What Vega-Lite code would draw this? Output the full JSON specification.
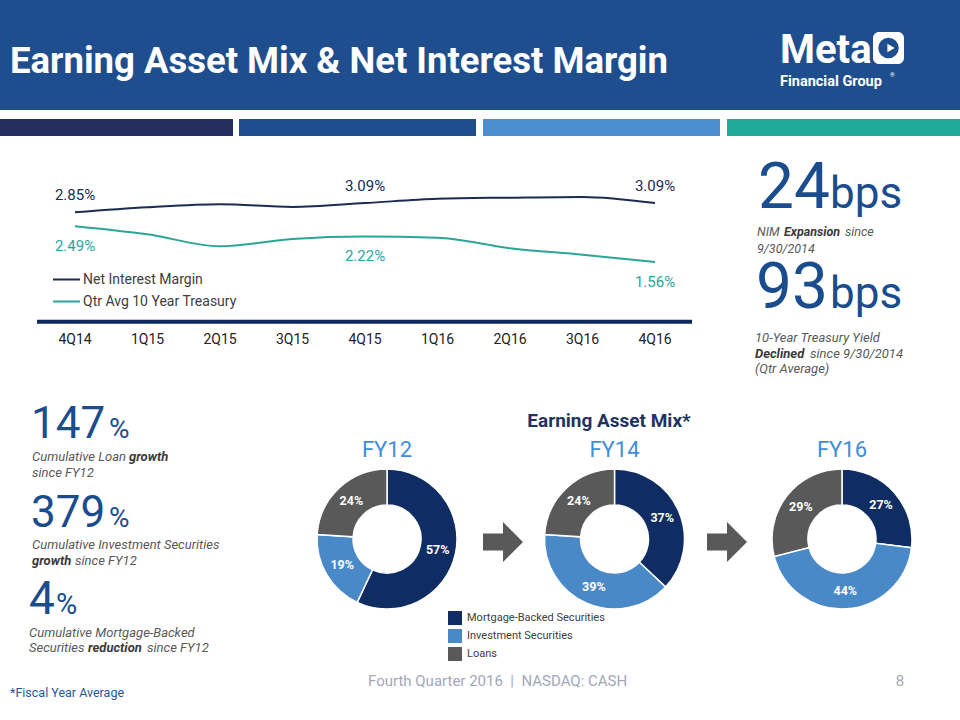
{
  "$schema": "https://vega.github.io/schema/vega-lite/v6.json",
  "width": 960,
  "height": 720,
  "padding": 0,
  "autosize": {"type": "none"},
  "background": "#ffffff",
  "config": {"view": {"stroke": null}, "axis": {"disable": true}, "font": "Roboto"},
  "data": {"values": [{}]},
  "resolve": {"scale": {"x": "independent", "y": "independent"}},
  "layer": [
    {
      "layer": [
        {"mark": {"type": "rect", "fill": "#1F4E8F"}, "encoding": {"x": {"datum": 0, "type": "quantitative", "scale": {"domain": [0, 960], "nice": false, "zero": false}, "axis": null}, "x2": {"datum": 960}, "y": {"datum": 0, "type": "quantitative", "scale": {"domain": [0, 720], "nice": false, "zero": false, "reverse": true}, "axis": null}, "y2": {"datum": 110}}},
        {"mark": {"type": "rect", "fill": "#252E5E"}, "encoding": {"x": {"datum": 0}, "x2": {"datum": 233}, "y": {"datum": 119}, "y2": {"datum": 136}}},
        {"mark": {"type": "rect", "fill": "#1F4E8F"}, "encoding": {"x": {"datum": 239}, "x2": {"datum": 476}, "y": {"datum": 119}, "y2": {"datum": 136}}},
        {"mark": {"type": "rect", "fill": "#4A8ED0"}, "encoding": {"x": {"datum": 483}, "x2": {"datum": 720}, "y": {"datum": 119}, "y2": {"datum": 136}}},
        {"mark": {"type": "rect", "fill": "#21A898"}, "encoding": {"x": {"datum": 727}, "x2": {"datum": 960}, "y": {"datum": 119}, "y2": {"datum": 136}}},
        {"mark": {"type": "text", "align": "left", "baseline": "alphabetic", "fontSize": 36.5, "fontWeight": "bold", "fill": "#ffffff"}, "encoding": {"x": {"datum": 10}, "y": {"datum": 73}, "text": {"value": "Earning Asset Mix & Net Interest Margin"}}},
        {"mark": {"type": "text", "align": "left", "baseline": "alphabetic", "fontSize": 40, "fontWeight": "bold", "fill": "#ffffff"}, "encoding": {"x": {"datum": 780}, "y": {"datum": 62.5}, "text": {"value": "Meta"}}},
        {"mark": {"type": "rect", "fill": "#ffffff", "cornerRadius": 6}, "encoding": {"x": {"datum": 873}, "x2": {"datum": 904}, "y": {"datum": 32}, "y2": {"datum": 64}}},
        {"mark": {"type": "point", "shape": "circle", "size": 420, "filled": true, "fill": "#1F4E8F", "opacity": 1, "strokeWidth": 0}, "encoding": {"x": {"datum": 888.5}, "y": {"datum": 48}}},
        {"mark": {"type": "point", "shape": "triangle-right", "size": 70, "filled": true, "fill": "#ffffff", "opacity": 1, "strokeWidth": 0}, "encoding": {"x": {"datum": 891}, "y": {"datum": 48}}},
        {"mark": {"type": "text", "align": "left", "baseline": "alphabetic", "fontSize": 14.5, "fontWeight": "bold", "fill": "#ffffff"}, "encoding": {"x": {"datum": 780}, "y": {"datum": 85.5}, "text": {"value": "Financial Group"}}},
        {"mark": {"type": "text", "align": "left", "baseline": "alphabetic", "fontSize": 6, "fill": "#ffffff"}, "encoding": {"x": {"datum": 890}, "y": {"datum": 77}, "text": {"value": "®"}}},
        {"mark": {"type": "rule", "stroke": "#0E2A5C", "strokeWidth": 4}, "encoding": {"x": {"datum": 37}, "x2": {"datum": 692}, "y": {"datum": 321.7}}},
        {"mark": {"type": "text", "align": "left", "baseline": "alphabetic", "fontSize": 64, "fill": "#1A4C8E"}, "encoding": {"x": {"datum": 758}, "y": {"datum": 208}, "text": {"value": "24"}}},
        {"mark": {"type": "text", "align": "left", "baseline": "alphabetic", "fontSize": 44, "fill": "#1A4C8E"}, "encoding": {"x": {"datum": 830}, "y": {"datum": 208}, "text": {"value": "bps"}}},
        {"mark": {"type": "text", "align": "left", "baseline": "alphabetic", "fontSize": 12.5, "fontStyle": "italic", "fill": "#595959"}, "encoding": {"x": {"datum": 757}, "y": {"datum": 236}, "text": {"value": "NIM"}}},
        {"mark": {"type": "text", "align": "left", "baseline": "alphabetic", "fontSize": 12.5, "fontStyle": "italic", "fontWeight": "bold", "fill": "#3A3A3A"}, "encoding": {"x": {"datum": 784}, "y": {"datum": 236}, "text": {"value": "Expansion"}}},
        {"mark": {"type": "text", "align": "left", "baseline": "alphabetic", "fontSize": 12.5, "fontStyle": "italic", "fill": "#595959"}, "encoding": {"x": {"datum": 845}, "y": {"datum": 236}, "text": {"value": "since"}}},
        {"mark": {"type": "text", "align": "left", "baseline": "alphabetic", "fontSize": 12.5, "fontStyle": "italic", "fill": "#595959"}, "encoding": {"x": {"datum": 757}, "y": {"datum": 253}, "text": {"value": "9/30/2014"}}},
        {"mark": {"type": "text", "align": "left", "baseline": "alphabetic", "fontSize": 64, "fill": "#1A4C8E"}, "encoding": {"x": {"datum": 756}, "y": {"datum": 308}, "text": {"value": "93"}}},
        {"mark": {"type": "text", "align": "left", "baseline": "alphabetic", "fontSize": 44, "fill": "#1A4C8E"}, "encoding": {"x": {"datum": 830}, "y": {"datum": 308}, "text": {"value": "bps"}}},
        {"mark": {"type": "text", "align": "left", "baseline": "alphabetic", "fontSize": 13, "fontStyle": "italic", "fill": "#595959"}, "encoding": {"x": {"datum": 755}, "y": {"datum": 342}, "text": {"value": "10-Year Treasury Yield"}}},
        {"mark": {"type": "text", "align": "left", "baseline": "alphabetic", "fontSize": 13, "fontStyle": "italic", "fontWeight": "bold", "fill": "#3A3A3A"}, "encoding": {"x": {"datum": 755}, "y": {"datum": 358}, "text": {"value": "Declined"}}},
        {"mark": {"type": "text", "align": "left", "baseline": "alphabetic", "fontSize": 13, "fontStyle": "italic", "fill": "#595959"}, "encoding": {"x": {"datum": 810}, "y": {"datum": 358}, "text": {"value": "since 9/30/2014"}}},
        {"mark": {"type": "text", "align": "left", "baseline": "alphabetic", "fontSize": 13, "fontStyle": "italic", "fill": "#595959"}, "encoding": {"x": {"datum": 755}, "y": {"datum": 373}, "text": {"value": "(Qtr Average)"}}},
        {"mark": {"type": "text", "align": "left", "baseline": "alphabetic", "fontSize": 44, "fill": "#1A4C8E"}, "encoding": {"x": {"datum": 31}, "y": {"datum": 438}, "text": {"value": "147"}}},
        {"mark": {"type": "text", "align": "left", "baseline": "alphabetic", "fontSize": 28, "fill": "#1A4C8E"}, "encoding": {"x": {"datum": 109}, "y": {"datum": 438}, "text": {"value": "%"}}},
        {"mark": {"type": "text", "align": "left", "baseline": "alphabetic", "fontSize": 13, "fontStyle": "italic", "fill": "#595959"}, "encoding": {"x": {"datum": 32}, "y": {"datum": 461}, "text": {"value": "Cumulative Loan"}}},
        {"mark": {"type": "text", "align": "left", "baseline": "alphabetic", "fontSize": 13, "fontStyle": "italic", "fontWeight": "bold", "fill": "#3A3A3A"}, "encoding": {"x": {"datum": 129}, "y": {"datum": 461}, "text": {"value": "growth"}}},
        {"mark": {"type": "text", "align": "left", "baseline": "alphabetic", "fontSize": 13, "fontStyle": "italic", "fill": "#595959"}, "encoding": {"x": {"datum": 32}, "y": {"datum": 477}, "text": {"value": "since FY12"}}},
        {"mark": {"type": "text", "align": "left", "baseline": "alphabetic", "fontSize": 44, "fill": "#1A4C8E"}, "encoding": {"x": {"datum": 31}, "y": {"datum": 527}, "text": {"value": "379"}}},
        {"mark": {"type": "text", "align": "left", "baseline": "alphabetic", "fontSize": 28, "fill": "#1A4C8E"}, "encoding": {"x": {"datum": 109}, "y": {"datum": 527}, "text": {"value": "%"}}},
        {"mark": {"type": "text", "align": "left", "baseline": "alphabetic", "fontSize": 13, "fontStyle": "italic", "fill": "#595959"}, "encoding": {"x": {"datum": 32}, "y": {"datum": 549}, "text": {"value": "Cumulative Investment Securities"}}},
        {"mark": {"type": "text", "align": "left", "baseline": "alphabetic", "fontSize": 13, "fontStyle": "italic", "fontWeight": "bold", "fill": "#3A3A3A"}, "encoding": {"x": {"datum": 32}, "y": {"datum": 565}, "text": {"value": "growth"}}},
        {"mark": {"type": "text", "align": "left", "baseline": "alphabetic", "fontSize": 13, "fontStyle": "italic", "fill": "#595959"}, "encoding": {"x": {"datum": 75}, "y": {"datum": 565}, "text": {"value": "since FY12"}}},
        {"mark": {"type": "text", "align": "left", "baseline": "alphabetic", "fontSize": 46, "fill": "#1A4C8E"}, "encoding": {"x": {"datum": 29}, "y": {"datum": 614}, "text": {"value": "4"}}},
        {"mark": {"type": "text", "align": "left", "baseline": "alphabetic", "fontSize": 29, "fill": "#1A4C8E"}, "encoding": {"x": {"datum": 56}, "y": {"datum": 614}, "text": {"value": "%"}}},
        {"mark": {"type": "text", "align": "left", "baseline": "alphabetic", "fontSize": 13, "fontStyle": "italic", "fill": "#595959"}, "encoding": {"x": {"datum": 29}, "y": {"datum": 637}, "text": {"value": "Cumulative Mortgage-Backed"}}},
        {"mark": {"type": "text", "align": "left", "baseline": "alphabetic", "fontSize": 13, "fontStyle": "italic", "fill": "#595959"}, "encoding": {"x": {"datum": 29}, "y": {"datum": 652}, "text": {"value": "Securities"}}},
        {"mark": {"type": "text", "align": "left", "baseline": "alphabetic", "fontSize": 13, "fontStyle": "italic", "fontWeight": "bold", "fill": "#3A3A3A"}, "encoding": {"x": {"datum": 88}, "y": {"datum": 652}, "text": {"value": "reduction"}}},
        {"mark": {"type": "text", "align": "left", "baseline": "alphabetic", "fontSize": 13, "fontStyle": "italic", "fill": "#595959"}, "encoding": {"x": {"datum": 147}, "y": {"datum": 652}, "text": {"value": "since FY12"}}},
        {"mark": {"type": "text", "align": "left", "baseline": "alphabetic", "fontSize": 12.5, "fill": "#24559C"}, "encoding": {"x": {"datum": 10}, "y": {"datum": 697}, "text": {"value": "*Fiscal Year Average"}}},
        {"mark": {"type": "text", "align": "center", "baseline": "alphabetic", "fontSize": 19, "fontWeight": "bold", "fill": "#1D3461"}, "encoding": {"x": {"datum": 609}, "y": {"datum": 427}, "text": {"value": "Earning Asset Mix*"}}},
        {"mark": {"type": "point", "shape": "M-1,-0.42L0,-0.42L0,-1L1,0L0,1L0,0.42L-1,0.42Z", "size": 1600, "filled": true, "fill": "#595959", "opacity": 1, "strokeWidth": 0}, "encoding": {"x": {"datum": 503}, "y": {"datum": 542}}},
        {"mark": {"type": "point", "shape": "M-1,-0.42L0,-0.42L0,-1L1,0L0,1L0,0.42L-1,0.42Z", "size": 1600, "filled": true, "fill": "#595959", "opacity": 1, "strokeWidth": 0}, "encoding": {"x": {"datum": 727}, "y": {"datum": 542}}},
        {"mark": {"type": "text", "align": "left", "baseline": "alphabetic", "fontSize": 15, "fill": "#A3A7BA"}, "encoding": {"x": {"datum": 368}, "y": {"datum": 686}, "text": {"value": "Fourth Quarter 2016 \u00a0|\u00a0 NASDAQ: CASH"}}},
        {"mark": {"type": "text", "align": "center", "baseline": "alphabetic", "fontSize": 15, "fill": "#A3A7BA"}, "encoding": {"x": {"datum": 900}, "y": {"datum": 686}, "text": {"value": "8"}}}
      ]
    },
    {
      "data": {"values": [
        {"quarter": "4Q14", "series": "Net Interest Margin", "rate": 0.0285},
        {"quarter": "1Q15", "series": "Net Interest Margin", "rate": 0.0298},
        {"quarter": "2Q15", "series": "Net Interest Margin", "rate": 0.0306},
        {"quarter": "3Q15", "series": "Net Interest Margin", "rate": 0.0299},
        {"quarter": "4Q15", "series": "Net Interest Margin", "rate": 0.0309},
        {"quarter": "1Q16", "series": "Net Interest Margin", "rate": 0.0320},
        {"quarter": "2Q16", "series": "Net Interest Margin", "rate": 0.0323},
        {"quarter": "3Q16", "series": "Net Interest Margin", "rate": 0.0325},
        {"quarter": "4Q16", "series": "Net Interest Margin", "rate": 0.0309},
        {"quarter": "4Q14", "series": "Qtr Avg 10 Year Treasury", "rate": 0.0249},
        {"quarter": "1Q15", "series": "Qtr Avg 10 Year Treasury", "rate": 0.0228},
        {"quarter": "2Q15", "series": "Qtr Avg 10 Year Treasury", "rate": 0.0197},
        {"quarter": "3Q15", "series": "Qtr Avg 10 Year Treasury", "rate": 0.0216},
        {"quarter": "4Q15", "series": "Qtr Avg 10 Year Treasury", "rate": 0.0222},
        {"quarter": "1Q16", "series": "Qtr Avg 10 Year Treasury", "rate": 0.0219},
        {"quarter": "2Q16", "series": "Qtr Avg 10 Year Treasury", "rate": 0.0192},
        {"quarter": "3Q16", "series": "Qtr Avg 10 Year Treasury", "rate": 0.0175},
        {"quarter": "4Q16", "series": "Qtr Avg 10 Year Treasury", "rate": 0.0156}
      ]},
      "layer": [
        {
          "mark": {"type": "line", "strokeWidth": 2, "interpolate": "monotone"},
          "encoding": {
            "x": {"field": "quarter", "type": "ordinal", "scale": {"type": "point", "domain": ["4Q14", "1Q15", "2Q15", "3Q15", "4Q15", "1Q16", "2Q16", "3Q16", "4Q16"], "range": [75, 655], "padding": 0}, "axis": null},
            "y": {"field": "rate", "type": "quantitative", "scale": {"domain": [0, 0.04], "range": [322.2, 167.96], "nice": false, "zero": false}, "axis": null},
            "stroke": {"field": "series", "type": "nominal", "scale": {"domain": ["Net Interest Margin", "Qtr Avg 10 Year Treasury"], "range": ["#1B2B52", "#2AA59A"]}, "legend": {"orient": "none", "legendX": 52, "legendY": 265, "title": null, "symbolType": "stroke", "symbolSize": 729, "symbolStrokeWidth": 2, "labelFontSize": 14, "labelColor": "#404040", "labelOffset": 2, "rowPadding": -1, "padding": 0}}
          }
        },
        {
          "transform": [{"filter": {"field": "series", "equal": "Net Interest Margin"}}, {"filter": {"field": "quarter", "oneOf": ["4Q14", "4Q15", "4Q16"]}}],
          "mark": {"type": "text", "dy": -17, "fontSize": 15, "fill": "#1B2B52"},
          "encoding": {"x": {"field": "quarter", "type": "ordinal"}, "y": {"field": "rate", "type": "quantitative"}, "text": {"field": "rate", "type": "quantitative", "format": ".2%"}}
        },
        {
          "transform": [{"filter": {"field": "series", "equal": "Qtr Avg 10 Year Treasury"}}, {"filter": {"field": "quarter", "oneOf": ["4Q14", "4Q15", "4Q16"]}}],
          "mark": {"type": "text", "dy": 19.5, "fontSize": 15, "fill": "#2AA59A"},
          "encoding": {"x": {"field": "quarter", "type": "ordinal"}, "y": {"field": "rate", "type": "quantitative"}, "text": {"field": "rate", "type": "quantitative", "format": ".2%"}}
        },
        {
          "transform": [{"filter": {"field": "series", "equal": "Net Interest Margin"}}],
          "mark": {"type": "text", "dy": 18, "fontSize": 14, "fill": "#222222"},
          "encoding": {"x": {"field": "quarter", "type": "ordinal"}, "y": {"datum": 0, "type": "quantitative"}, "text": {"field": "quarter", "type": "nominal"}}
        }
      ]
    },
    {
      "data": {"values": [
        {"year": "FY12", "category": "Mortgage-Backed Securities", "share": 0.57},
        {"year": "FY12", "category": "Investment Securities", "share": 0.19},
        {"year": "FY12", "category": "Loans", "share": 0.24},
        {"year": "FY14", "category": "Mortgage-Backed Securities", "share": 0.37},
        {"year": "FY14", "category": "Investment Securities", "share": 0.39},
        {"year": "FY14", "category": "Loans", "share": 0.24},
        {"year": "FY16", "category": "Mortgage-Backed Securities", "share": 0.27},
        {"year": "FY16", "category": "Investment Securities", "share": 0.44},
        {"year": "FY16", "category": "Loans", "share": 0.29}
      ]},
      "layer": [
        {
          "transform": [{"stack": "share", "groupby": ["year"], "as": ["s0", "s1"]}],
          "mark": {"type": "arc", "innerRadius": 34, "outerRadius": 70, "stroke": "#ffffff", "strokeWidth": 1.5},
          "encoding": {
            "x": {"field": "year", "type": "nominal", "scale": {"type": "point", "domain": ["FY12", "FY14", "FY16"], "range": [387, 842], "padding": 0}, "axis": null},
            "y": {"datum": 539, "type": "quantitative", "scale": {"domain": [0, 720], "nice": false, "zero": false, "reverse": true}, "axis": null},
            "theta": {"field": "s0", "type": "quantitative", "scale": {"domain": [0, 1]}, "stack": null},
            "theta2": {"field": "s1"},
            "fill": {"field": "category", "type": "nominal", "scale": {"domain": ["Mortgage-Backed Securities", "Investment Securities", "Loans"], "range": ["#0F2D63", "#4A89C8", "#595959"]}, "legend": {"orient": "none", "legendX": 448, "legendY": 611, "title": null, "symbolType": "square", "symbolSize": 196, "symbolStrokeWidth": 0, "symbolOpacity": 1, "labelFontSize": 11, "labelColor": "#404040", "rowPadding": 4, "labelOffset": 5, "padding": 0}}
          }
        },
        {
          "transform": [{"stack": "share", "groupby": ["year"], "as": ["s0", "s1"]}, {"filter": {"field": "year", "equal": "FY12"}}],
          "mark": {"type": "text", "radius": 52, "fontSize": 12.5, "fontWeight": "bold", "fill": "#ffffff"},
          "encoding": {"x": {"field": "year", "type": "nominal"}, "y": {"datum": 539}, "theta": {"field": "share", "type": "quantitative", "stack": true}, "order": {"field": "s0", "type": "quantitative"}, "text": {"field": "share", "type": "quantitative", "format": ".0%"}}
        },
        {
          "transform": [{"stack": "share", "groupby": ["year"], "as": ["s0", "s1"]}, {"filter": {"field": "year", "equal": "FY14"}}],
          "mark": {"type": "text", "radius": 52, "fontSize": 12.5, "fontWeight": "bold", "fill": "#ffffff"},
          "encoding": {"x": {"field": "year", "type": "nominal"}, "y": {"datum": 539}, "theta": {"field": "share", "type": "quantitative", "stack": true}, "order": {"field": "s0", "type": "quantitative"}, "text": {"field": "share", "type": "quantitative", "format": ".0%"}}
        },
        {
          "transform": [{"stack": "share", "groupby": ["year"], "as": ["s0", "s1"]}, {"filter": {"field": "year", "equal": "FY16"}}],
          "mark": {"type": "text", "radius": 52, "fontSize": 12.5, "fontWeight": "bold", "fill": "#ffffff"},
          "encoding": {"x": {"field": "year", "type": "nominal"}, "y": {"datum": 539}, "theta": {"field": "share", "type": "quantitative", "stack": true}, "order": {"field": "s0", "type": "quantitative"}, "text": {"field": "share", "type": "quantitative", "format": ".0%"}}
        },
        {
          "transform": [{"filter": {"field": "category", "equal": "Loans"}}],
          "mark": {"type": "text", "baseline": "alphabetic", "fontSize": 22, "fill": "#3E8EDA"},
          "encoding": {"x": {"field": "year", "type": "nominal"}, "y": {"datum": 457}, "text": {"field": "year", "type": "nominal"}}
        }
      ]
    }
  ]
}
